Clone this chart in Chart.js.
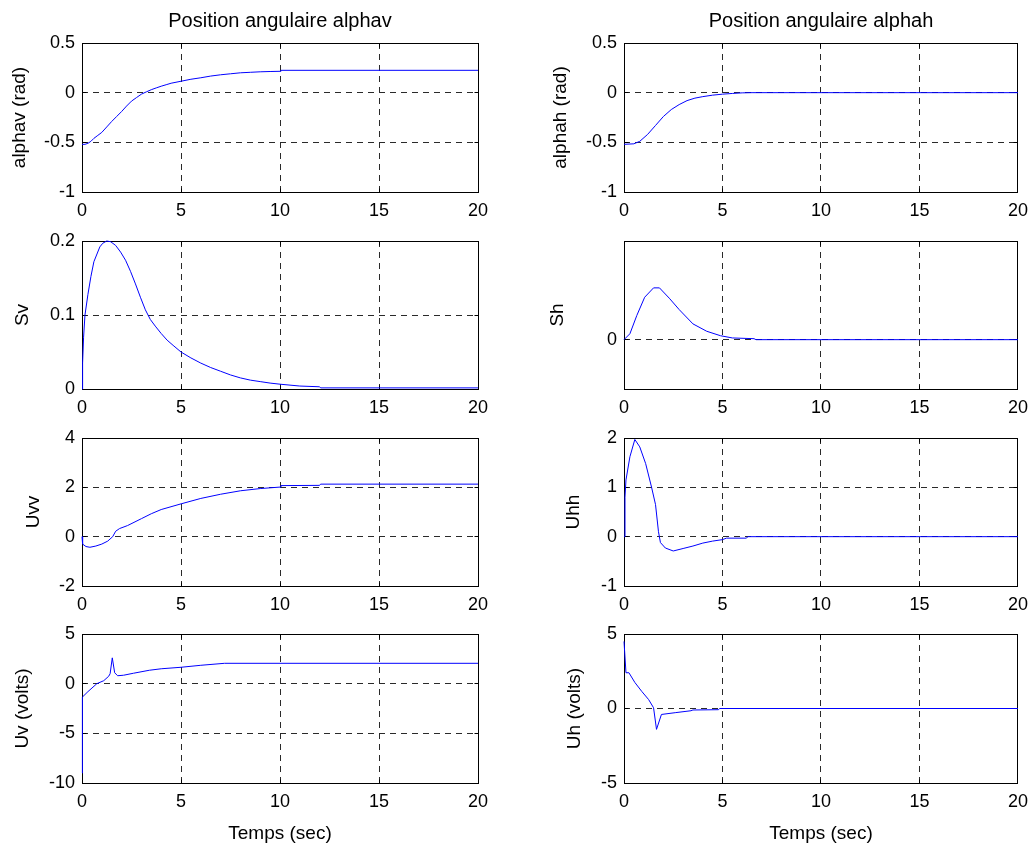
<!DOCTYPE html>
<html><head><meta charset="utf-8">
<script src="https://cdn.jsdelivr.net/npm/chart.js@4"></script>
<style>
html,body{margin:0;padding:0;background:#fff;}
#fig{position:relative;width:1036px;height:846px;overflow:hidden;background:#fff;}
canvas{position:absolute;}
</style></head><body><div id="fig"></div>
<script>
// ---------- data ----------
const xTicks = [0, 5, 10, 15, 20];

const tAlphav = [0,0.15,0.3,0.45,0.6,0.8,1,1.25,1.5,1.75,2,2.25,2.5,2.75,3,3.25,3.5,3.75,4,4.25,4.5,5,5.5,6,6.5,7,7.5,8,8.5,9,9.5,10,10.05,20];
const alphav  = [-0.52,-0.52,-0.51,-0.49,-0.46,-0.43,-0.40,-0.345,-0.29,-0.24,-0.19,-0.135,-0.085,-0.05,-0.015,0.008,0.03,0.048,0.065,0.08,0.095,0.115,0.135,0.15,0.167,0.18,0.19,0.20,0.205,0.21,0.213,0.215,0.225,0.225];

const tAlphah = [0,0.5,0.8,1.2,1.6,2,2.4,2.8,3.2,3.6,4,4.5,5,5.5,6,6.5,20];
const alphah  = [-0.52,-0.515,-0.49,-0.42,-0.33,-0.24,-0.17,-0.12,-0.08,-0.055,-0.04,-0.025,-0.015,-0.008,-0.002,0,0];

const tSv = [0,0.03,0.08,0.15,0.3,0.45,0.6,0.9,1.05,1.25,1.45,1.7,1.95,2.2,2.45,2.7,2.95,3.2,3.45,3.7,4,4.3,4.6,5,5.5,6,6.5,7,7.5,8,8.5,9,9.5,10,11,12,12.05,20];
const sv  = [0,0.035,0.07,0.10,0.128,0.152,0.172,0.192,0.197,0.2,0.199,0.194,0.185,0.174,0.159,0.142,0.124,0.107,0.094,0.085,0.075,0.066,0.059,0.05,0.042,0.035,0.029,0.024,0.019,0.015,0.012,0.01,0.008,0.0065,0.004,0.003,0.0015,0.0015];

const tSh = [0,0.3,0.65,1.05,1.5,1.8,2.3,2.8,3.5,4.2,4.9,5.5,6.6,6.7,20];
const sh  = [0,0.012,0.049,0.086,0.105,0.105,0.084,0.061,0.032,0.017,0.008,0.0035,0.002,0,0];

const tUvv = [0,0.03,0.2,0.4,0.7,1,1.3,1.55,1.7,1.9,2.3,3,3.5,4,5,6,7,8,9,10,10.05,12,12.05,20];
const uvv  = [0,-0.3,-0.4,-0.43,-0.38,-0.3,-0.18,0,0.22,0.33,0.45,0.73,0.93,1.1,1.33,1.55,1.72,1.86,1.95,2.01,2.07,2.08,2.13,2.13];

const tUhh = [0,0.05,0.1,0.3,0.55,0.8,1.1,1.4,1.6,1.75,1.85,2.1,2.5,3,3.5,4,4.5,5,5.2,6.2,6.3,20];
const uhh  = [0,0.8,1.15,1.62,1.97,1.82,1.48,1.0,0.65,0.1,-0.12,-0.23,-0.29,-0.24,-0.19,-0.13,-0.09,-0.06,-0.03,-0.03,0,0];

const tUv = [0,0.02,0.3,0.75,1.1,1.35,1.42,1.53,1.65,1.8,2.1,2.6,3.4,4,5,6,7.2,20];
const uv  = [-9,-1.35,-0.8,0,0.3,0.75,1.0,2.6,1.1,0.8,0.85,1.05,1.35,1.5,1.65,1.85,2.05,2.05];

const tUh = [0,0.1,0.25,0.55,0.9,1.25,1.5,1.65,1.9,2.6,3.4,3.5,4.8,4.85,20];
const uh  = [4.5,2.4,2.4,1.75,1.15,0.6,0.05,-1.4,-0.4,-0.28,-0.15,-0.1,-0.08,0,0];

const yTicksAlpha = [-1, -0.5, 0, 0.5];
const yTicksSv    = [0, 0.1, 0.2];
const yTicksSh    = [0];
const yTicksUvv   = [-2, 0, 2, 4];
const yTicksUhh   = [-1, 0, 1, 2];
const yTicksUv    = [-10, -5, 0, 5];
const yTicksUh    = [-5, 0, 5];

const titles = ['Position angulaire alphav', 'Position angulaire alphah'];
const xLabel = 'Temps (sec)';

// ---------- panels ----------
const panels = [
  {col:0,row:0,t:tAlphav,v:alphav,min:-1,max:0.5,ticks:yTicksAlpha,label:'alphav (rad)',labelX:20},
  {col:1,row:0,t:tAlphah,v:alphah,min:-1,max:0.5,ticks:yTicksAlpha,label:'alphah (rad)',labelX:43},
  {col:0,row:1,t:tSv,v:sv,min:0,max:0.2,ticks:yTicksSv,label:'Sv',labelX:23},
  {col:1,row:1,t:tSh,v:sh,min:-0.1,max:0.2,ticks:yTicksSh,label:'Sh',labelX:40},
  {col:0,row:2,t:tUvv,v:uvv,min:-2,max:4,ticks:yTicksUvv,label:'Uvv',labelX:34},
  {col:1,row:2,t:tUhh,v:uhh,min:-1,max:2,ticks:yTicksUhh,label:'Uhh',labelX:56},
  {col:0,row:3,t:tUv,v:uv,min:-10,max:5,ticks:yTicksUv,label:'Uv (volts)',labelX:23},
  {col:1,row:3,t:tUh,v:uh,min:-5,max:5,ticks:yTicksUh,label:'Uh (volts)',labelX:57}
];

const cols = [
  {left:0, width:518, plotLeft:82, plotRight:478},
  {left:518, width:518, plotLeft:624, plotRight:1019}
];
const rows = [
  {plotTop:43, plotBottom:192},
  {plotTop:241, plotBottom:389},
  {plotTop:438, plotBottom:586},
  {plotTop:634, plotBottom:783}
];

const FONT = "'Liberation Sans', Arial, Helvetica, sans-serif";
const GRID = '#2a2a2a';

const fmt = v => String(Number(v.toFixed(4)));

const framePlugin = {
  id: 'frame',
  beforeDatasetsDraw(chart) {
    const {ctx, chartArea: a, scales} = chart;
    const al = p => Math.round(p - 0.5) + 0.5;
    const l = al(a.left), r = al(a.right), t = al(a.top), b = al(a.bottom);
    ctx.save();
    ctx.strokeStyle = '#000';
    ctx.lineWidth = 1;
    ctx.setLineDash([]);
    ctx.beginPath();
    scales.x.ticks.forEach(tk => {
      const px = al(scales.x.getPixelForValue(tk.value));
      ctx.moveTo(px, b); ctx.lineTo(px, b - 4);
      ctx.moveTo(px, t); ctx.lineTo(px, t + 4);
    });
    scales.y.ticks.forEach(tk => {
      const py = al(scales.y.getPixelForValue(tk.value));
      ctx.moveTo(l, py); ctx.lineTo(l + 4, py);
      ctx.moveTo(r, py); ctx.lineTo(r - 4, py);
    });
    ctx.stroke();
    ctx.strokeRect(l, t, r - l, b - t);
    ctx.restore();
  }
};

const fig = document.getElementById('fig');

panels.forEach(p => {
  const c = cols[p.col], rw = rows[p.row];
  const top = p.row === 0 ? 0 : rw.plotTop - 22;
  const bottom = p.row === 3 ? 846 : rw.plotBottom + 45;
  const h = bottom - top;
  const cv = document.createElement('canvas');
  cv.width = c.width; cv.height = h;
  cv.style.left = c.left + 'px'; cv.style.top = top + 'px';
  cv.style.width = c.width + 'px'; cv.style.height = h + 'px';
  fig.appendChild(cv);

  const yW = c.plotLeft - c.left;
  const xH = bottom - rw.plotBottom;
  const labelLH = 19 * 1.2;
  const topH = rw.plotTop - top;

  new Chart(cv.getContext('2d'), {
    type: 'line',
    data: {
      datasets: [{
        data: p.t.map((x, i) => ({x: x, y: p.v[i]})),
        borderColor: '#0000ff',
        borderWidth: 1,
        pointRadius: 0,
        tension: 0,
        fill: false,
        clip: 2
      }]
    },
    options: {
      responsive: false,
      animation: false,
      devicePixelRatio: 1,
      events: [],
      layout: {padding: {left: 0, right: c.left + c.width - c.plotRight, top: 0, bottom: 0}},
      plugins: {
        legend: {display: false},
        tooltip: {enabled: false},
        title: {display: false}
      },
      scales: {
        x: {
          type: 'linear',
          min: 0, max: 20,
          afterBuildTicks: s => { s.ticks = xTicks.map(v => ({value: v})); },
          afterFit: s => { s.height = xH; },
          ticks: {color: '#000', font: {family: FONT, size: 18}, padding: 8, autoSkip: false, maxRotation: 0, callback: v => fmt(v)},
          grid: {
            color: ctx => (ctx.tick && (ctx.tick.value === 0 || ctx.tick.value === 20)) ? 'rgba(0,0,0,0)' : GRID,
            lineWidth: 1,
            drawTicks: false
          },
          border: {display: false, dash: [6, 5]},
          title: {
            display: p.row === 3,
            text: xLabel,
            color: '#000',
            font: {family: FONT, size: 19, lineHeight: 1.2},
            padding: {top: 0, bottom: 1}
          }
        },
        x2: {
          type: 'linear',
          position: 'top',
          min: 0, max: 20,
          afterFit: s => { s.height = topH; },
          ticks: {display: false},
          grid: {display: false, drawTicks: false},
          border: {display: false},
          title: {
            display: p.row === 0,
            text: titles[p.col],
            color: '#000',
            font: {family: FONT, size: 20, lineHeight: 1.2},
            padding: {top: 9, bottom: 0}
          }
        },
        y: {
          type: 'linear',
          min: p.min, max: p.max,
          afterBuildTicks: s => { s.ticks = p.ticks.map(v => ({value: v})); },
          afterFit: s => { s.width = yW; },
          ticks: {color: '#000', font: {family: FONT, size: 18}, padding: 7, autoSkip: false, callback: v => fmt(v)},
          grid: {
            color: ctx => (ctx.tick && (ctx.tick.value === p.min || ctx.tick.value === p.max)) ? 'rgba(0,0,0,0)' : GRID,
            lineWidth: 1,
            drawTicks: false
          },
          border: {display: false, dash: [6, 5]},
          title: {
            display: true,
            text: p.label,
            color: '#000',
            font: {family: FONT, size: 19, lineHeight: 1.2},
            padding: {top: p.labelX - labelLH / 2, bottom: 0}
          }
        }
      }
    },
    plugins: [framePlugin]
  });
});
</script>
</body></html>
